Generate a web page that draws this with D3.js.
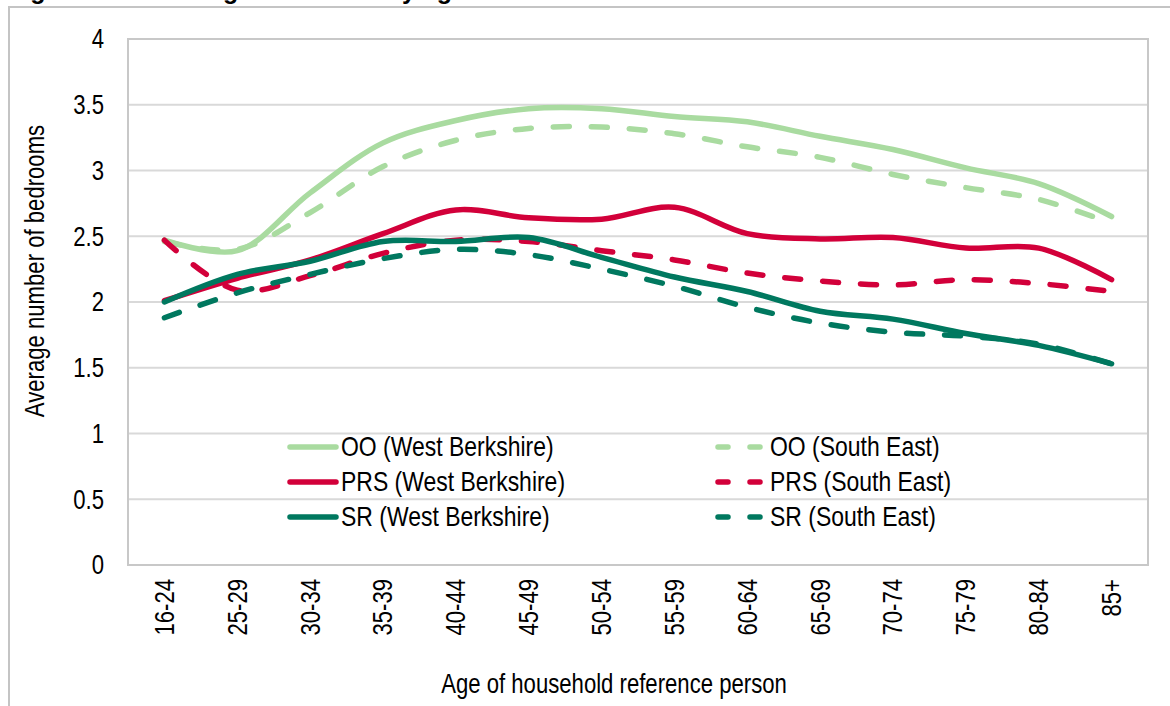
<!DOCTYPE html>
<html>
<head>
<meta charset="utf-8">
<script src="https://cdn.jsdelivr.net/npm/d3@7"></script>
<style>
    body { margin: 0; background: #fff; overflow: hidden; }
    svg text { font-family: "Liberation Sans", Arial, sans-serif; fill: #000; }
    .title { font-weight: bold; }
</style>
</head>
<body>
<svg id="chart" width="1170" height="706"></svg>
<script>
    // categories and values
    const ageBands = ['16-24', '25-29', '30-34', '35-39', '40-44', '45-49', '50-54',
        '55-59', '60-64', '65-69', '70-74', '75-79', '80-84', '85+'];
    const yTicks = [0, 0.5, 1, 1.5, 2, 2.5, 3, 3.5, 4];

    const ooWestBerks = [2.47, 2.39, 2.83, 3.21, 3.38, 3.47, 3.47, 3.41, 3.37, 3.26, 3.16, 3.02, 2.90, 2.65];
    const ooSouthEast = [2.46, 2.40, 2.68, 3.03, 3.23, 3.32, 3.33, 3.28, 3.18, 3.10, 2.97, 2.87, 2.78, 2.60];
    const prsWestBerks = [2.01, 2.18, 2.32, 2.52, 2.70, 2.64, 2.63, 2.72, 2.52, 2.48, 2.49, 2.41, 2.41, 2.17];
    const prsSouthEast = [2.47, 2.09, 2.20, 2.37, 2.47, 2.46, 2.39, 2.32, 2.22, 2.16, 2.13, 2.17, 2.14, 2.08];
    const srWestBerks = [2.00, 2.21, 2.31, 2.46, 2.46, 2.49, 2.34, 2.19, 2.08, 1.93, 1.87, 1.76, 1.67, 1.53];
    const srSouthEast = [1.88, 2.07, 2.21, 2.33, 2.40, 2.36, 2.25, 2.12, 1.96, 1.84, 1.77, 1.74, 1.68, 1.53];

    const series = [
        { name: 'OO (West Berkshire)', values: ooWestBerks, color: '#a9dba0', dashed: false },
        { name: 'OO (South East)', values: ooSouthEast, color: '#a9dba0', dashed: true },
        { name: 'PRS (West Berkshire)', values: prsWestBerks, color: '#d2003a', dashed: false },
        { name: 'PRS (South East)', values: prsSouthEast, color: '#d2003a', dashed: true },
        { name: 'SR (West Berkshire)', values: srWestBerks, color: '#00785f', dashed: false },
        { name: 'SR (South East)', values: srSouthEast, color: '#00785f', dashed: true }
    ];

    const svg = d3.select('#chart');
    const plot = { left: 128, top: 39, right: 1148, bottom: 565 };
    const NARROW = 0.82; // no Arial Narrow here, so squeeze the regular face

    // places a condensed text at (px, py), optionally rotated
    function narrowText(parent, px, py, rot, anchor, txt, size) {
        return parent.append('text')
            .attr('transform', `translate(${px},${py}) rotate(${rot}) scale(${NARROW},1)`)
            .attr('dy', '0.35em')
            .attr('text-anchor', anchor)
            .style('font-size', (size || 27) + 'px')
            .text(txt);
    }

    // outer frame (cut by the page edge)
    svg.append('path')
        .attr('d', 'M9,712V7H1175')
        .attr('fill', 'none')
        .attr('stroke', '#c4c4c4')
        .attr('stroke-width', 2);

    // title, mostly above the visible area
    svg.append('text')
        .attr('class', 'title')
        .attr('x', 8)
        .attr('y', -1.5)
        .style('font-size', '25px')
        .text('Figure 4.10: Average bedrooms by age and tenure');

    const x = d3.scalePoint()
        .domain(ageBands)
        .range([plot.left, plot.right])
        .padding(0.5);

    const y = d3.scaleLinear()
        .domain([0, 4])
        .range([plot.bottom, plot.top]);

    // gridlines
    svg.append('g')
        .selectAll('line')
        .data(yTicks.slice(1, -1))
        .enter()
        .append('line')
        .attr('x1', plot.left)
        .attr('x2', plot.right)
        .attr('y1', d => y(d))
        .attr('y2', d => y(d))
        .attr('stroke', '#d9d9d9')
        .attr('stroke-width', 2);

    svg.append('rect')
        .attr('x', plot.left)
        .attr('y', plot.top)
        .attr('width', plot.right - plot.left)
        .attr('height', plot.bottom - plot.top)
        .attr('fill', 'none')
        .attr('stroke', '#c8c8c8')
        .attr('stroke-width', 2);

    // y tick labels
    const yLabels = svg.append('g');
    yTicks.forEach(t => narrowText(yLabels, 104, y(t), 0, 'end', t));

    // x tick labels, rotated
    const xLabels = svg.append('g');
    ageBands.forEach(b => narrowText(xLabels, x(b), 579, -90, 'end', b));

    // axis titles
    narrowText(svg, 614, 684, 0, 'middle', 'Age of household reference person');
    narrowText(svg, 35, 271, -90, 'middle', 'Average number of bedrooms');

    // lines
    const line = d3.line()
        .x((d, i) => x(ageBands[i]))
        .y(d => y(d))
        .curve(d3.curveCatmullRom.alpha(0.5));

    svg.append('g')
        .selectAll('path')
        .data(series)
        .enter()
        .append('path')
        .attr('d', d => line(d.values))
        .attr('fill', 'none')
        .attr('stroke', d => d.color)
        .attr('stroke-width', 5.5)
        .attr('stroke-linecap', 'round')
        .attr('stroke-linejoin', 'round')
        .attr('stroke-dasharray', d => d.dashed ? '16,22' : null);

    // legend, two columns, filled row by row
    const legend = svg.append('g')
        .selectAll('g')
        .data(series)
        .enter()
        .append('g')
        .attr('transform', (d, i) => `translate(${i % 2 === 0 ? 290 : 718},${447 + Math.floor(i / 2) * 35})`);

    legend.append('line')
        .attr('x1', 0)
        .attr('x2', d => d.dashed ? 44 : 46)
        .attr('stroke', d => d.color)
        .attr('stroke-width', 5.5)
        .attr('stroke-linecap', 'round')
        .attr('stroke-dasharray', d => d.dashed ? '10,22' : null);

    legend.each(function (d) {
        narrowText(d3.select(this), d.dashed ? 52 : 51, -1, 0, 'start', d.name, 28);
    });
</script>
</body>
</html>
